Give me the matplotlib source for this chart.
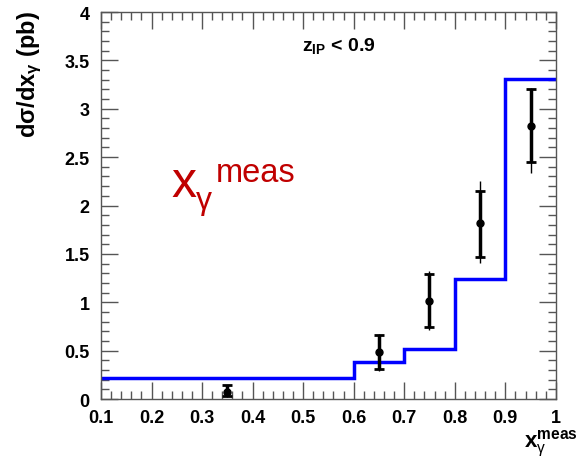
import matplotlib
matplotlib.use("Agg")
import matplotlib.pyplot as plt
import numpy as np
from matplotlib.ticker import MultipleLocator

plt.rcParams['font.family'] = ['Liberation Sans', 'DejaVu Sans']
plt.rcParams['mathtext.fontset'] = 'custom'
plt.rcParams['mathtext.rm'] = 'Liberation Sans'
plt.rcParams['mathtext.bf'] = 'Liberation Sans:bold'
plt.rcParams['mathtext.it'] = 'Liberation Sans:italic'

# histogram (MC prediction)
bin_edges = [0.1, 0.6, 0.7, 0.8, 0.9, 1.0]
mc_values = [0.214, 0.38, 0.517, 1.24, 3.31]

# data points
x_data = [0.35, 0.65, 0.75, 0.85, 0.95]
y_data = [0.075, 0.49, 1.01, 1.815, 2.825]
stat_lo = [0.04, 0.18, 0.27, 0.345, 0.375]
stat_hi = [0.07, 0.17, 0.28, 0.335, 0.375]
tot_lo = [0.05, 0.20, 0.30, 0.405, 0.485]
tot_hi = [0.075, 0.18, 0.31, 0.435, 0.385]

frame = '#555555'
red = '#c00000'

fig = plt.figure(figsize=(5.79, 4.6), dpi=100)
ax = fig.add_axes([0.1744, 0.1304, 0.7856, 0.8413])

ax.stairs(mc_values, bin_edges, baseline=None, color='#0000ff', lw=2.5, zorder=2)

ax.errorbar(x_data, y_data, yerr=[tot_lo, tot_hi], fmt='none', ecolor='black',
            elinewidth=1, capsize=0, zorder=3)
ax.errorbar(x_data, y_data, yerr=[stat_lo, stat_hi], fmt='o', color='black',
            ms=5, elinewidth=2.5, capsize=3.5, capthick=2, zorder=4)

ax.set_xlim(0.1, 1.0)
ax.set_ylim(0, 4)
ax.xaxis.set_minor_locator(MultipleLocator(0.02))
ax.yaxis.set_minor_locator(MultipleLocator(0.1))
ax.set_xticks(np.arange(0.1, 1.01, 0.1))
ax.set_xticklabels(['0.1', '0.2', '0.3', '0.4', '0.5', '0.6', '0.7', '0.8', '0.9', '1'])
ax.set_yticks(np.arange(0, 4.01, 0.5))
ax.set_yticklabels(['0', '0.5', '1', '1.5', '2', '2.5', '3', '3.5', '4'])

ax.tick_params(which='both', direction='in', top=True, right=True, color=frame, width=1)
ax.tick_params(which='major', length=12)
ax.tick_params(which='minor', length=6)
ax.tick_params(axis='x', pad=7)
ax.tick_params(axis='y', pad=8)
for lab in ax.get_xticklabels() + ax.get_yticklabels():
    lab.set_fontweight('bold')
    lab.set_fontsize(13)
for sp in ax.spines.values():
    sp.set_color(frame)
    sp.set_linewidth(1)

# axis titles
fig.text(30 / 579, 1 - 11 / 460, r'd$\mathbf{\sigma}$/dx$_{\mathbf{\gamma}}$ (pb)',
         rotation=90, ha='center', va='top', fontsize=17, fontweight='bold')
fig.text(578 / 579, 1 - 459 / 460, r'$\mathbf{x}_{\mathrm{\gamma}}^{\mathbf{meas}}$',
         ha='right', va='bottom', fontsize=16)

# annotations
fig.text(302 / 579, 1 - 51 / 460, r'$\mathbf{z}_{\mathbf{IP}}$ < 0.9',
         ha='left', va='baseline', fontsize=14, fontweight='bold')
fig.text(171 / 579, 1 - 197 / 460, 'x', ha='left', va='baseline', fontsize=36, color=red)
fig.text(196 / 579, 1 - 209 / 460, 'γ', ha='left', va='baseline', fontsize=23, color=red)
fig.text(216 / 579, 1 - 182 / 460, 'meas', ha='left', va='baseline', fontsize=23.5, color=red)

fig.savefig('out.png', dpi=100)
